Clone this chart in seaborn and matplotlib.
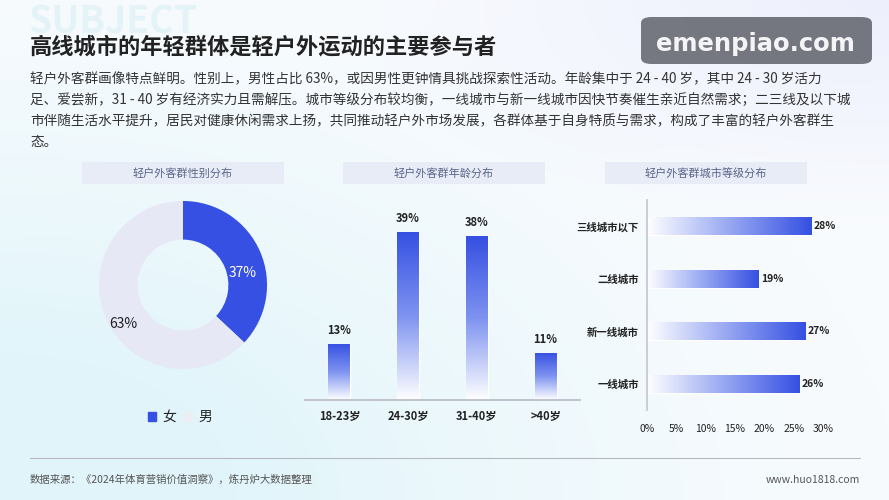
import matplotlib.pyplot as plt
import matplotlib.patches as mpatches
from matplotlib.colors import LinearSegmentedColormap
import numpy as np
import pandas as pd
import seaborn as sns

# data
gender_labels = ['女', '男']
gender_share = [37, 63]

age_groups = ['18-23岁', '24-30岁', '31-40岁', '>40岁']
age_share = [13, 39, 38, 11]

city_tiers = ['三线城市以下', '二线城市', '新一线城市', '一线城市']
city_share = [28, 19, 27, 26]
city_ticks = [0, 5, 10, 15, 20, 25, 30]

title = '高线城市的年轻群体是轻户外运动的主要参与者'
intro_lines = [
    '轻户外客群画像特点鲜明。性别上，男性占比 63%，或因男性更钟情具挑战探索性活动。年龄集中于 24 - 40 岁，其中 24 - 30 岁活力',
    '足、爱尝新，31 - 40 岁有经济实力且需解压。城市等级分布较均衡，一线城市与新一线城市因快节奏催生亲近自然需求；二三线及以下城',
    '市伴随生活水平提升，居民对健康休闲需求上扬，共同推动轻户外市场发展，各群体基于自身特质与需求，构成了丰富的轻户外客群生',
    '态。',
]
panel_titles = ['轻户外客群性别分布', '轻户外客群年龄分布', '轻户外客群城市等级分布']
source = '数据来源：《2024年体育营销价值洞察》，炼丹炉大数据整理'
site = 'www.huo1818.com'

sns.set_theme(style='white')
plt.rcParams['font.family'] = ['Noto Sans CJK SC', 'DejaVu Sans']

BLUE = '#3550e2'
LIGHT = '#e6e8f5'
DARK = '#222222'
W, H = 889, 500

fig = plt.figure(figsize=(8.89, 5.0), dpi=100)


def fx(px):
    return px / W


def fy(py):
    return 1 - py / H


# soft background
bg = fig.add_axes([0, 0, 1, 1], zorder=-5)
yy, xx = np.mgrid[0:1:200j, 0:1:356j]
white = np.array([0.975, 0.985, 0.995])
cyan = np.array([0.88, 0.96, 0.98])
lav = np.array([0.93, 0.94, 0.99])
w_c = np.clip(1.3 - np.hypot(xx * 1.2, (1 - yy) * 1.1), 0, 1)[..., None] ** 1.5
w_l = np.clip(1.0 - np.hypot((1 - xx) * 1.6, yy * 2.2), 0, 1)[..., None]
img = white + (cyan - white) * w_c + (lav - white) * w_l
bg.imshow(np.clip(img, 0, 1), extent=[0, 1, 0, 1], aspect='auto', origin='upper')
bg.set_xlim(0, 1)
bg.set_ylim(0, 1)
bg.axis('off')

# faint decorative word sitting behind the title
bg.text(fx(28), fy(22), 'SUBJECT', fontsize=27, fontweight='bold', color='#e4f3f8',
        va='center', ha='left', transform=fig.transFigure)
fig.text(fx(30), fy(47), title, fontsize=16, fontweight='bold', color=DARK, va='center')
for i, line in enumerate(intro_lines):
    fig.text(fx(30), fy(79 + i * 21), line, fontsize=9.8, color='#333333', va='center')

# watermark box
wm = mpatches.FancyBboxPatch((fx(641), fy(64)), fx(231), 47 / H,
                             boxstyle='round,pad=0,rounding_size=0.012',
                             transform=fig.transFigure, facecolor='#6a6d76', edgecolor='none',
                             alpha=0.92, zorder=5)
fig.patches.append(wm)
fig.text(fx(755), fy(44), 'emenpiao.com', fontsize=17.5, fontweight='bold', color='#f4f4f6',
         ha='center', va='center', family='DejaVu Sans', zorder=6)

# panel headers
for cx, t in zip([183, 444, 706], panel_titles):
    box = mpatches.Rectangle((fx(cx - 101), fy(184)), fx(202), 22 / H, transform=fig.transFigure,
                             facecolor='#e7ebf7', edgecolor='none', alpha=0.9)
    fig.patches.append(box)
    fig.text(fx(cx), fy(173), t, fontsize=8, color='#5a6688', ha='center', va='center')

# donut
ax1 = fig.add_axes([fx(83), fy(385), fx(200), 200 / H])
ax1.pie(gender_share, colors=[BLUE, LIGHT], startangle=90, counterclock=False,
        radius=1.0, wedgeprops=dict(width=0.46, edgecolor='none'))
ax1.set_xlim(-1.19, 1.19)
ax1.set_ylim(-1.19, 1.19)
ax1.set_aspect('equal')
ax1.text(0.71, 0.14, f'{gender_share[0]}%', color='white', fontsize=10, ha='center', va='center')
ax1.text(-0.71, -0.46, f'{gender_share[1]}%', color=DARK, fontsize=10, ha='center', va='center')
handles = [mpatches.Patch(color=BLUE), mpatches.Patch(color='#eceef4')]
fig.legend(handles, gender_labels, loc='center', bbox_to_anchor=(fx(180), fy(417)), ncol=2,
           frameon=False, fontsize=10, handlelength=0.6, handleheight=0.6, handletextpad=0.4,
           columnspacing=0.6)


def grad_fill(ax, patch, cmap, vertical):
    x0, y0 = patch.get_x(), patch.get_y()
    x1, y1 = x0 + patch.get_width(), y0 + patch.get_height()
    g = np.linspace(0, 1, 256)
    g = g.reshape(-1, 1) if vertical else g.reshape(1, -1)
    im = ax.imshow(g, cmap=cmap, aspect='auto', origin='lower',
                   extent=[x0, x1, min(y0, y1), max(y0, y1)], zorder=2)
    im.set_clip_path(patch)
    patch.set_facecolor('none')


cmap_v = LinearSegmentedColormap.from_list('v', ['#ffffff', '#7e93f0', '#3550e2'])
cmap_h = LinearSegmentedColormap.from_list('h', ['#ffffff', '#98a8f2', '#3550e2'])

# age bars
ax2 = fig.add_axes([fx(305), fy(400), fx(275), 194 / H])
age_df = pd.DataFrame({'age': age_groups, 'share': age_share})
sns.barplot(data=age_df, x='age', y='share', ax=ax2, width=0.32, color=BLUE)
for p in list(ax2.patches):
    grad_fill(ax2, p, cmap_v, True)
for i, v in enumerate(age_share):
    ax2.text(i, v + 1.6, f'{v}%', ha='center', va='bottom', fontsize=8, fontweight='bold', color=DARK)
ax2.set_xlim(-0.5, len(age_groups) - 0.5)
ax2.set_ylim(0, 45)
ax2.set_xlabel('')
ax2.set_ylabel('')
ax2.set_yticks([])
ax2.set_facecolor('none')
for s in ['top', 'right', 'left']:
    ax2.spines[s].set_visible(False)
ax2.spines['bottom'].set_color('#b8bcc6')
ax2.tick_params(axis='x', length=0, pad=7, labelsize=8, labelcolor=DARK)
for lab in ax2.get_xticklabels():
    lab.set_fontweight('bold')

# city tier bars
ax3 = fig.add_axes([fx(647), fy(410), fx(176), 210 / H])
city_df = pd.DataFrame({'tier': city_tiers, 'share': city_share})
sns.barplot(data=city_df, y='tier', x='share', ax=ax3, width=0.34, color=BLUE, orient='h')
for p in list(ax3.patches):
    grad_fill(ax3, p, cmap_h, False)
for i, v in enumerate(city_share):
    ax3.text(v + 0.4, i, f'{v}%', ha='left', va='center', fontsize=7.5, fontweight='bold', color=DARK)
ax3.set_xlim(0, 30)
ax3.set_ylim(len(city_tiers) - 0.5, -0.5)
ax3.set_xticks(city_ticks)
ax3.set_xticklabels([f'{t}%' for t in city_ticks])
ax3.set_xlabel('')
ax3.set_ylabel('')
ax3.set_facecolor('none')
for s in ['top', 'right', 'bottom']:
    ax3.spines[s].set_visible(False)
ax3.spines['left'].set_color('#c4c8d2')
ax3.tick_params(axis='x', length=0, pad=10, labelsize=7.5, labelcolor=DARK)
ax3.tick_params(axis='y', length=0, pad=6, labelsize=7.5, labelcolor=DARK)
for lab in ax3.get_yticklabels():
    lab.set_fontweight('bold')

# footer
fig.add_artist(plt.Line2D([fx(30), fx(860)], [fy(458), fy(458)], color='#b5b8bf', lw=0.8))
fig.text(fx(30), fy(480), source, fontsize=7.5, color='#555555', va='center')
fig.text(fx(860), fy(480), site, fontsize=7.5, color='#555555', va='center', ha='right')

fig.savefig('out.png', dpi=100)
